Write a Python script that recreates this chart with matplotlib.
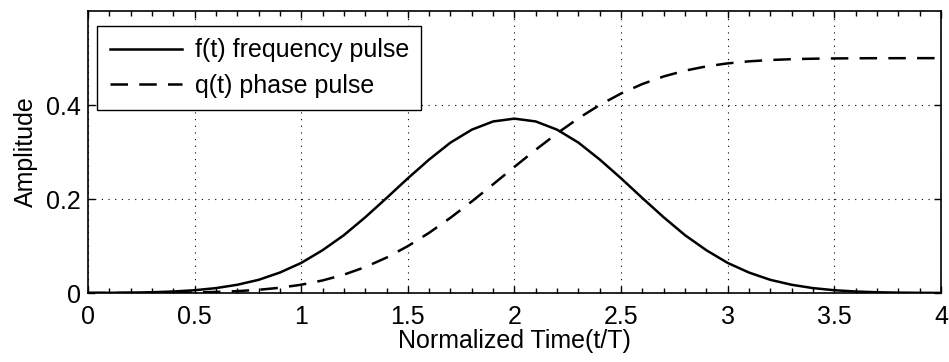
import matplotlib
matplotlib.use('Agg')
import matplotlib.pyplot as plt
from matplotlib.ticker import MultipleLocator, FormatStrFormatter

plt.rcParams['font.family'] = ['Liberation Sans', 'DejaVu Sans']

# normalized time, sampled every 0.1
t = [i / 10 for i in range(41)]

# f(t) frequency pulse
f_pulse = [0.0002, 0.0004, 0.0008, 0.0016, 0.0032, 0.0059, 0.0104, 0.0175, 0.0280, 0.0435,
           0.0640, 0.0910, 0.1230, 0.1610, 0.2020, 0.2440, 0.2840, 0.3200, 0.3475, 0.3650,
           0.3710,
           0.3650, 0.3475, 0.3200, 0.2840, 0.2440, 0.2020, 0.1610, 0.1230, 0.0910, 0.0640,
           0.0435, 0.0280, 0.0175, 0.0104, 0.0059, 0.0032, 0.0016, 0.0008, 0.0004, 0.0002]

# q(t) phase pulse
q_pulse = [0.0000, 0.0001, 0.0001, 0.0003, 0.0006, 0.0012, 0.0023, 0.0040, 0.0068, 0.0112,
           0.0176, 0.0267, 0.0390, 0.0551, 0.0753, 0.0997, 0.1281, 0.1601, 0.1948, 0.2313,
           0.2684, 0.3049, 0.3397, 0.3717, 0.4001, 0.4245, 0.4447, 0.4608, 0.4731, 0.4822,
           0.4886, 0.4929, 0.4957, 0.4975, 0.4985, 0.4991, 0.4994, 0.4996, 0.4996, 0.4997,
           0.4997]

fig = plt.figure(figsize=(9.49, 3.62), dpi=100)
ax = fig.add_axes([0.0927, 0.1906, 0.8988, 0.779])

ax.plot(t, f_pulse, color='black', lw=1.8, label='f(t) frequency pulse')
ax.plot(t, q_pulse, color='black', lw=1.8, dashes=(7, 4.5), label='q(t) phase pulse')

ax.set_xlim(0, 4)
ax.set_ylim(0, 0.6)
ax.xaxis.set_major_locator(MultipleLocator(0.5))
ax.xaxis.set_minor_locator(MultipleLocator(0.1))
ax.set_yticks([0, 0.2, 0.4])
ax.xaxis.set_major_formatter(FormatStrFormatter('%g'))
ax.yaxis.set_major_formatter(FormatStrFormatter('%g'))
ax.tick_params(which='both', direction='in', top=True, right=True, labelsize=18, width=1)
ax.tick_params(axis='x', pad=8.5)
ax.tick_params(axis='y', pad=5)
ax.tick_params(which='major', length=5)
ax.tick_params(which='minor', length=3.5)
ax.tick_params(axis='y', which='minor', left=False, right=False)
ax.grid(True, which='major', color='black', linestyle=(0, (1, 5)), lw=0.8)
for s in ax.spines.values():
    s.set_linewidth(1.2)

ax.set_xlabel('Normalized Time(t/T)', fontsize=18, labelpad=0)
ax.set_ylabel('Amplitude', fontsize=18, labelpad=6)

leg = ax.legend(loc='upper left', bbox_to_anchor=(0.0106, 0.947), borderaxespad=0,
                fontsize=18, handlelength=2.9, fancybox=False,
                edgecolor='black', framealpha=1,
                borderpad=0.5, labelspacing=0.45, handletextpad=0.5)
leg.get_frame().set_linewidth(1.0)

fig.savefig('out.png', dpi=100)
